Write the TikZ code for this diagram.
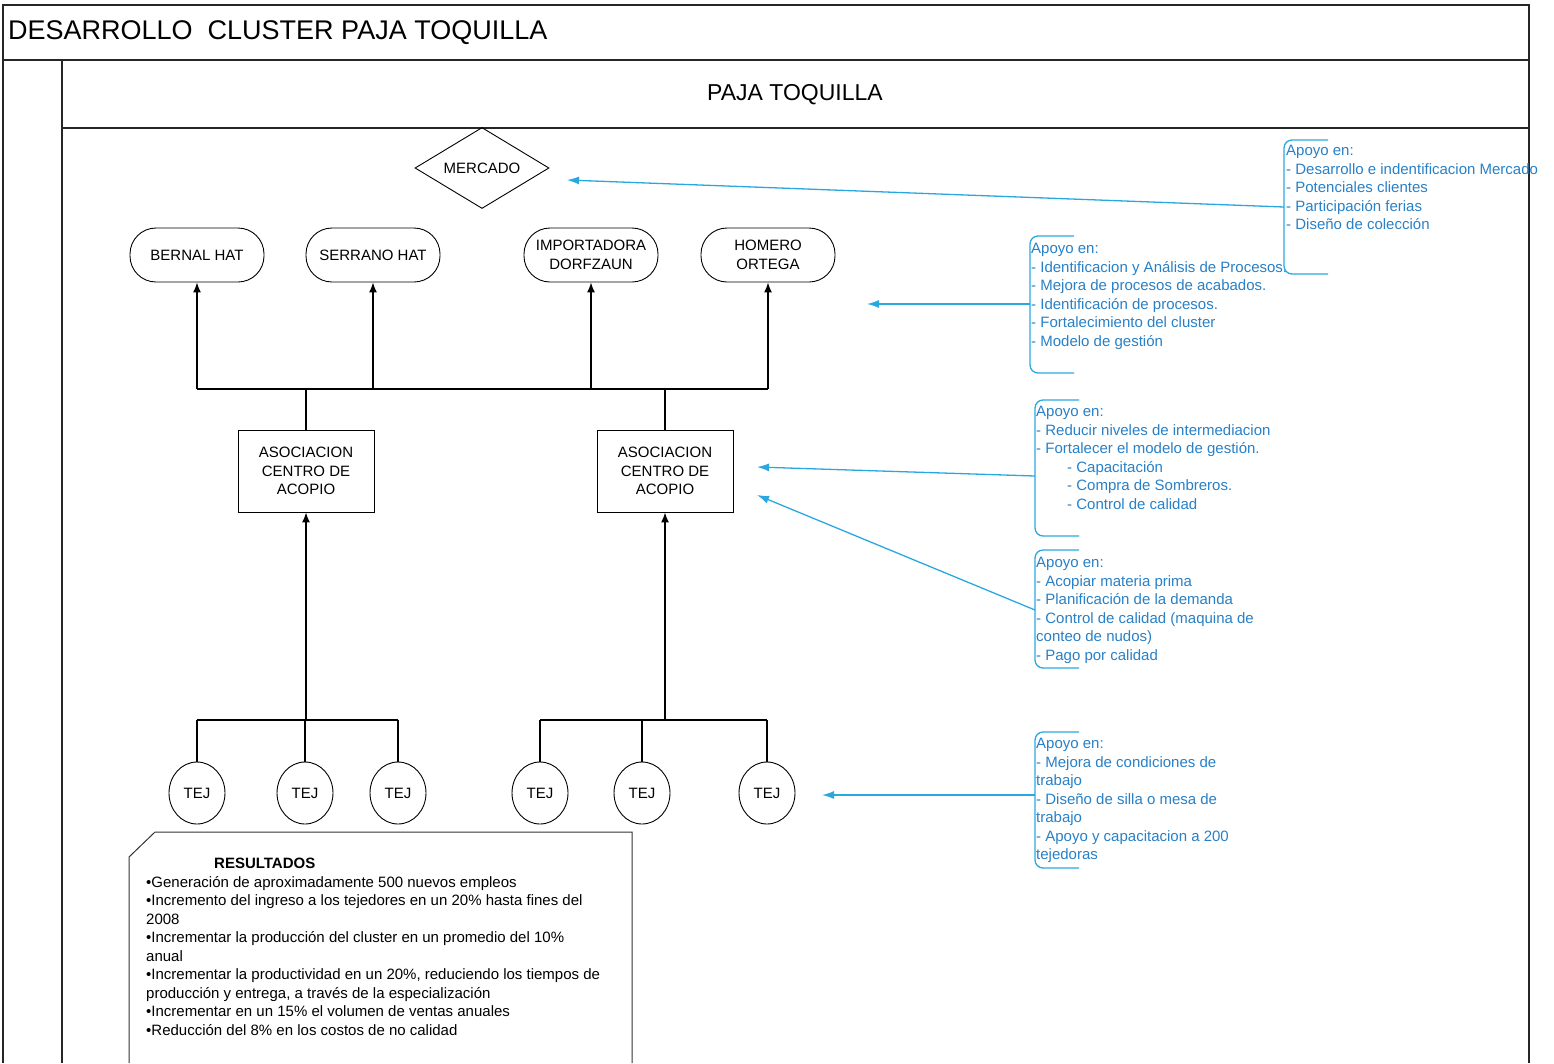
\documentclass[tikz,border=0pt]{standalone}
\usepackage{fontspec}
\setmainfont{Liberation Sans}
\usetikzlibrary{arrows.meta,shapes.geometric}

\definecolor{apoyoline}{RGB}{41,168,224}
\definecolor{apoyotext}{RGB}{40,128,198}

\tikzset{
  frameline/.style={draw=black!85, line width=1.6pt},
  client/.style={draw, line width=0.9pt, rounded corners=26pt, minimum width=134pt, minimum height=54pt, align=center, inner sep=0pt, font=\fontsize{15}{19}\selectfont},
  acopio/.style={draw, line width=0.9pt, minimum width=136pt, minimum height=82pt, align=center, inner sep=0pt, font=\fontsize{15}{18.5}\selectfont},
  tejedor/.style={draw, line width=0.9pt, ellipse, minimum width=56pt, minimum height=62pt, inner sep=0pt, font=\fontsize{15}{18}\selectfont},
  joinline/.style={line width=1.4pt},
  flow/.style={line width=1.4pt, -{Latex[length=10pt,width=8pt]}},
  apoyo/.style={text=apoyotext, align=left, anchor=north west, inner sep=0pt, font=\fontsize{15}{18.5}\selectfont},
  bracket/.style={draw=apoyoline, line width=1.3pt, rounded corners=8pt},
  pointer/.style={draw=apoyoline, line width=1.3pt, -{Latex[length=12pt,width=8pt]}},
}

\begin{document}
\begin{tikzpicture}[x=1pt, y=-1pt]
    \useasboundingbox (0,0) rectangle (1554,1063);

    % Frame and headers
    \draw[frameline] (3,1063) -- (3,5) -- (1529,5) -- (1529,1063);
    \draw[frameline] (3,60) -- (1529,60);
    \draw[frameline] (62,1063) -- (62,60);
    \draw[frameline] (62,128) -- (1529,128);
    \node[anchor=west, inner sep=0pt, font=\fontsize{27}{30}\selectfont] (titulo) at (8,33) {DESARROLLO\ \ CLUSTER PAJA TOQUILLA};
    \node[font=\fontsize{23}{26}\selectfont] (cabecera) at (795,95) {PAJA TOQUILLA};

    % Market
    \node[draw, line width=0.9pt, diamond, aspect=1.65, minimum width=134pt, minimum height=81pt, inner sep=0pt, font=\fontsize{15}{18}\selectfont] (mercado) at (482,168) {MERCADO};

    % Clients
    \node[client] (bernal) at (197,255) {BERNAL HAT};
    \node[client] (serrano) at (373,255) {SERRANO HAT};
    \node[client] (importadora) at (591,255) {IMPORTADORA\\DORFZAUN};
    \node[client] (homero) at (768,255) {HOMERO\\ORTEGA};

    % Collection centres
    \node[acopio] (aso1) at (306,471) {ASOCIACION\\CENTRO DE\\ACOPIO};
    \node[acopio] (aso2) at (665,471) {ASOCIACION\\CENTRO DE\\ACOPIO};

    % Weavers
    \foreach \x/\n in {197/1, 305/2, 398/3, 540/4, 642/5, 767/6} {
        \node[tejedor] (tej\n) at (\x,793) {TEJ};
    }

    % Connectors: centres to clients
    \coordinate (busUp) at (0,389);
    \draw[joinline] (bernal.south |- busUp) -- (homero.south |- busUp);
    \draw[joinline] (aso1.north) -- (aso1.north |- busUp);
    \draw[joinline] (aso2.north) -- (aso2.north |- busUp);
    \foreach \n in {bernal, serrano, importadora, homero} {
        \draw[flow] (\n.south |- busUp) -- (\n.south);
    }

    % Connectors: weavers to centres
    \coordinate (busLo) at (0,720);
    \draw[joinline] (tej1.north |- busLo) -- (tej3.north |- busLo);
    \draw[joinline] (tej4.north |- busLo) -- (tej6.north |- busLo);
    \foreach \n in {1,...,6} {
        \draw[joinline] (tej\n.north) -- (tej\n.north |- busLo);
    }
    \draw[flow] (aso1.south |- busLo) -- (aso1.south);
    \draw[flow] (aso2.south |- busLo) -- (aso2.south);

    % Results
    \draw[black!80, line width=1pt] (129,1063) -- (129,857) -- (155,832) -- (632,832) -- (632,1063);
    \node[anchor=north west, inner sep=0pt, align=left, font=\fontsize{15}{18.5}\selectfont] (resultados) at (146,858) {%
        \hspace*{68pt}\textbf{RESULTADOS}\\
        •Generación de aproximadamente 500 nuevos empleos\\
        •Incremento del ingreso a los tejedores en un 20\% hasta fines del\\
        2008\\
        •Incrementar la producción del cluster en un promedio del 10\%\\
        anual\\
        •Incrementar la productividad en un 20\%, reduciendo los tiempos de\\
        producción y entrega, a través de la especialización\\
        •Incrementar en un 15\% el volumen de ventas anuales\\
        •Reducción del 8\% en los costos de no calidad};

    % Support notes
    \node[apoyo] (apoyoMercado) at (1286,145) {Apoyo en:\\- Desarrollo e indentificacion Mercado\\- Potenciales clientes\\- Participación ferias\\- Diseño de colección};
    \node[apoyo] (apoyoProcesos) at (1031,243) {Apoyo en:\\- Identificacion y Análisis de Procesos.\\- Mejora de procesos de acabados.\\- Identificación de procesos.\\- Fortalecimiento del cluster\\- Modelo de gestión};
    \node[apoyo] (apoyoGestion) at (1036,406) {Apoyo en:\\- Reducir niveles de intermediacion\\- Fortalecer el modelo de gestión.\\\hspace*{31pt}- Capacitación\\\hspace*{31pt}- Compra de Sombreros.\\\hspace*{31pt}- Control de calidad};
    \node[apoyo] (apoyoCalidad) at (1036,557) {Apoyo en:\\- Acopiar materia prima\\- Planificación de la demanda\\- Control de calidad (maquina de\\conteo de nudos)\\- Pago por calidad};
    \node[apoyo] (apoyoTejedoras) at (1036,738) {Apoyo en:\\- Mejora de condiciones de\\trabajo\\- Diseño de silla o mesa de\\trabajo\\- Apoyo y capacitacion a 200\\tejedoras};

    % Brackets
    \foreach \bx/\btop/\bbot/\bmid/\bname in {1284/140/274/207/m, 1030/236/373/304/p, 1035/400/536/476/g, 1035/550/668/610/c, 1035/732/868/795/t} {
        \draw[bracket] (\bx+44,\btop) -- (\bx,\btop) -- (\bx,\bbot) -- (\bx+44,\bbot);
        \coordinate (brace\bname) at (\bx,\bmid);
    }

    % Support arrows
    \coordinate (toMercado) at (567,180);
    \coordinate (toClientes) at (867,304);
    \coordinate (toAso2a) at (757,467);
    \coordinate (toAso2b) at (757,495);
    \coordinate (toTej) at (822,795);
    \draw[pointer] (bracem) -- (toMercado);
    \draw[pointer] (bracep) -- (toClientes);
    \draw[pointer] (braceg) -- (toAso2a);
    \draw[pointer] (bracec) -- (toAso2b);
    \draw[pointer] (bracet) -- (toTej);
\end{tikzpicture}
\end{document}
